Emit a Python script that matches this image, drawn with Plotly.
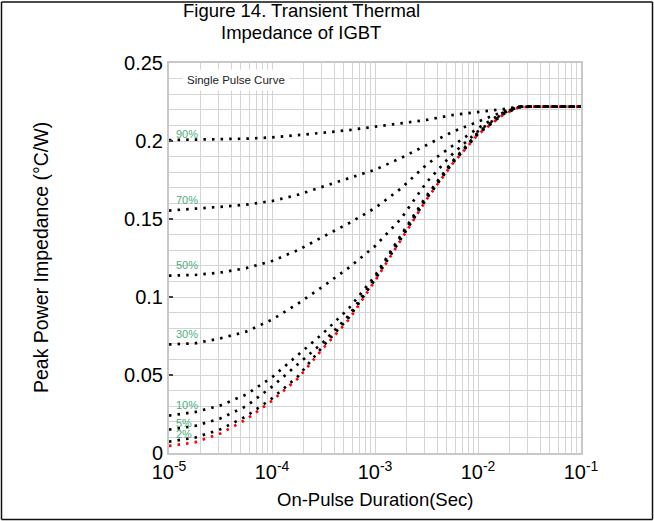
import plotly.graph_objects as go

# ---------------- data ----------------
duration = [1e-5, 1.78e-5, 3.16e-5, 5.62e-5, 1e-4, 1.78e-4, 3.16e-4, 5.62e-4,
            1e-3, 1.78e-3, 3.16e-3, 5.62e-3, 1e-2, 1.78e-2, 2.5e-2, 3.16e-2, 1e-1]

single_pulse = [0.0045, 0.0068, 0.0125, 0.0215, 0.0335, 0.0477, 0.0674, 0.0858,
                0.1103, 0.1366, 0.1625, 0.1852, 0.2042, 0.2172, 0.2216, 0.222, 0.222]
duty_2 = [0.0073, 0.0098, 0.0152, 0.0235, 0.0350, 0.0490, 0.0688, 0.0870,
          0.1112, 0.1375, 0.1630, 0.1856, 0.2046, 0.2174, 0.2217, 0.222, 0.222]
duty_5 = [0.0150, 0.0173, 0.0222, 0.0300, 0.0425, 0.0570, 0.0712, 0.0885,
          0.1122, 0.1385, 0.1638, 0.1862, 0.2050, 0.2176, 0.2218, 0.222, 0.222]
duty_10 = [0.0240, 0.0262, 0.0305, 0.0375, 0.0485, 0.0625, 0.0770, 0.0930,
           0.1135, 0.1395, 0.1648, 0.1868, 0.2055, 0.2178, 0.2218, 0.222, 0.222]
duty_30 = [0.0696, 0.0703, 0.0735, 0.0778, 0.0855, 0.0957, 0.1070, 0.1190,
           0.1326, 0.1500, 0.1735, 0.1915, 0.2062, 0.2180, 0.2219, 0.222, 0.222]
duty_50 = [0.1137, 0.1141, 0.1157, 0.1185, 0.1231, 0.1300, 0.1388, 0.1474,
           0.1570, 0.1695, 0.1848, 0.1968, 0.2082, 0.2185, 0.2219, 0.222, 0.222]
duty_70 = [0.1554, 0.1565, 0.1578, 0.1592, 0.1615, 0.1655, 0.1708, 0.1758,
           0.1816, 0.1890, 0.1974, 0.2058, 0.2124, 0.2190, 0.2220, 0.222, 0.222]
duty_90 = [0.2006, 0.2008, 0.2010, 0.2015, 0.2023, 0.2037, 0.2053, 0.2070,
           0.2092, 0.2116, 0.2135, 0.2166, 0.2184, 0.2205, 0.2220, 0.222, 0.222]

duty_series = [("2%", duty_2), ("5%", duty_5), ("10%", duty_10), ("30%", duty_30),
               ("50%", duty_50), ("70%", duty_70), ("90%", duty_90)]

label_text = ["90%", "70%", "50%", "30%", "10%", "5%", "2%"]
label_y = [0.2047, 0.1623, 0.1205, 0.0762, 0.0306, 0.0194, 0.0120]

x_tick_vals = [1e-5, 1e-4, 1e-3, 1e-2, 1e-1]
x_tick_text = ["10<sup>-5</sup>", "10<sup>-4</sup>", "10<sup>-3</sup>",
               "10<sup>-2</sup>", "10<sup>-1</sup>"]
y_tick_vals = [0, 0.05, 0.1, 0.15, 0.2, 0.25]
y_tick_text = ["0", "0.05", "0.1", "0.15", "0.2", "0.25"]

# ---------------- layout geometry ----------------
W, H = 654, 521
ML, MR, MT, MB = 169, 73, 63, 68
PW, PH = W - ML - MR, H - MT - MB


def px_x(px):
    return (px - ML) / PW


def px_y(py):
    return (H - MB - py) / PH


FONT = "Arial, Liberation Sans, sans-serif"
GRID = "#d4d4d4"
GREEN = "#4dae7b"
DOT = "2.5px,6.1px"

fig = go.Figure()

fig.add_trace(go.Scatter(x=duration, y=single_pulse, mode="lines",
                         line=dict(color="#ff0000", width=2.7, dash=DOT),
                         name="Single Pulse", showlegend=False, hoverinfo="skip"))
for name, vals in duty_series:
    fig.add_trace(go.Scatter(x=duration, y=vals, mode="lines",
                             line=dict(color="#000000", width=2.7, dash=DOT),
                             name=name, showlegend=False, hoverinfo="skip"))

fig.update_xaxes(type="log", range=[-5, -1], tickmode="array",
                 tickvals=x_tick_vals, ticktext=x_tick_text, ticks="",
                 showgrid=True, gridcolor=GRID, gridwidth=1,
                 minor=dict(dtick="D1", showgrid=True, gridcolor=GRID,
                            gridwidth=1, ticks=""),
                 showline=True, linecolor="#c8c8c8", linewidth=2, mirror=True,
                 tickfont=dict(family=FONT, size=20, color="#000"), zeroline=False)
fig.update_yaxes(range=[0, 0.25], tickmode="array", tickvals=y_tick_vals,
                 ticktext=y_tick_text, ticks="inside", ticklen=4, tickwidth=1.5,
                 tickcolor="#404040", showgrid=True, gridcolor=GRID, gridwidth=1,
                 minor=dict(dtick=0.01, tick0=0, showgrid=True, gridcolor=GRID,
                            gridwidth=1, ticks=""),
                 showline=True, linecolor="#c8c8c8", linewidth=2, mirror=True,
                 tickfont=dict(family=FONT, size=20, color="#000"), zeroline=False)

annotations = []
for t, yv in zip(label_text, label_y):
    annotations.append(dict(x=-4.955, y=yv, xref="x", yref="y", text=t,
                            showarrow=False, xanchor="left", yanchor="middle",
                            font=dict(family=FONT, size=11, color=GREEN)))

annotations.append(dict(x=px_x(236), y=px_y(80), xref="paper", yref="paper",
                        text="Single Pulse Curve", showarrow=False,
                        xanchor="center", yanchor="middle", bgcolor="white",
                        borderpad=4,
                        font=dict(family=FONT, size=11.5, color="#222")))

annotations.append(dict(x=px_x(301), y=px_y(10), xref="paper", yref="paper",
                        text="Figure 14. Transient Thermal", showarrow=False,
                        xanchor="center", yanchor="middle",
                        font=dict(family=FONT, size=18.5, color="#000")))
annotations.append(dict(x=px_x(301), y=px_y(32), xref="paper", yref="paper",
                        text="Impedance of IGBT", showarrow=False,
                        xanchor="center", yanchor="middle",
                        font=dict(family=FONT, size=18.5, color="#000")))
annotations.append(dict(x=px_x(375), y=px_y(499), xref="paper", yref="paper",
                        text="On-Pulse Duration(Sec)", showarrow=False,
                        xanchor="center", yanchor="middle",
                        font=dict(family=FONT, size=18.5, color="#000")))
annotations.append(dict(x=px_x(41), y=px_y(258), xref="paper", yref="paper",
                        text="Peak Power Impedance (°C/W)", showarrow=False,
                        textangle=-90, xanchor="center", yanchor="middle",
                        font=dict(family=FONT, size=19.5, color="#000")))

border = dict(color="#111", width=1.5)
shapes = [
    dict(type="line", xref="paper", yref="paper", x0=px_x(1.5), x1=px_x(652.5),
         y0=px_y(2), y1=px_y(2), line=border, layer="above"),
    dict(type="line", xref="paper", yref="paper", x0=px_x(1.5), x1=px_x(652.5),
         y0=px_y(519.5), y1=px_y(519.5), line=border, layer="above"),
    dict(type="line", xref="paper", yref="paper", x0=px_x(1.5), x1=px_x(1.5),
         y0=px_y(2), y1=px_y(519.5), line=border, layer="above"),
    dict(type="line", xref="paper", yref="paper", x0=px_x(652.5), x1=px_x(652.5),
         y0=px_y(2), y1=px_y(519.5), line=border, layer="above"),
]

fig.update_layout(width=W, height=H, margin=dict(l=ML, r=MR, t=MT, b=MB),
                  paper_bgcolor="white", plot_bgcolor="white",
                  annotations=annotations, shapes=shapes,
                  font=dict(family=FONT, color="#000"), showlegend=False)

fig.write_html("out.html", config={"displayModeBar": False},
               post_script="document.body.style.margin='0';"
                           "document.body.style.overflow='hidden';")
